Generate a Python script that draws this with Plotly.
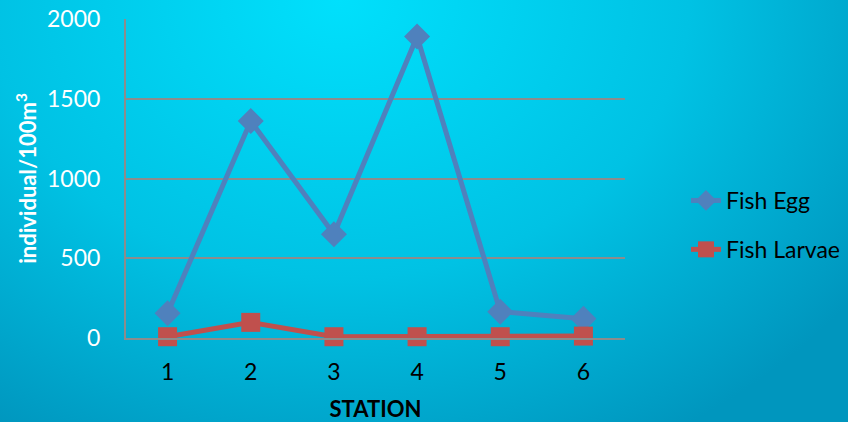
import base64
import plotly.graph_objects as go

stations = ["1", "2", "3", "4", "5", "6"]
fish_egg = [155, 1360, 650, 1890, 165, 120]
fish_larvae = [8, 98, 8, 8, 8, 12]
y_ticks = [0, 500, 1000, 1500, 2000]

W, H = 848, 422
L, R, T, B = 126, 223, 19, 84
pw, ph = W - L - R, H - T - B

svg = f'''<svg xmlns="http://www.w3.org/2000/svg" width="{W}" height="{H}" viewBox="0 0 {W} {H}" preserveAspectRatio="none">
<defs><radialGradient id="g" cx="0.4" cy="0.0" r="0.75" gradientTransform="translate(0.4,0) scale(1,1.6) translate(-0.4,0)">
<stop offset="0" stop-color="#00E0FC"/><stop offset="0.55" stop-color="#00C2E4"/><stop offset="1" stop-color="#0096BE"/>
</radialGradient></defs><rect width="{W}" height="{H}" fill="url(#g)"/></svg>'''
src = "data:image/svg+xml;base64," + base64.b64encode(svg.encode()).decode()

fig = go.Figure()
fig.add_trace(go.Scatter(
    x=stations, y=fish_egg, name="Fish Egg", mode="lines+markers", legendgroup="egg",
    line=dict(color="#4F81BD", width=5), cliponaxis=False,
    marker=dict(symbol="diamond", size=20, color="#4F81BD"),
))
fig.add_trace(go.Scatter(
    x=stations, y=fish_larvae, name="Fish Larvae", mode="lines+markers", legendgroup="larvae",
    line=dict(color="#C0504D", width=5), cliponaxis=False,
    marker=dict(symbol="square", size=19, color="#C0504D"),
))

fig.add_layout_image(dict(
    source=src, xref="paper", yref="paper",
    x=-L / pw, y=1 + T / ph, sizex=W / pw, sizey=H / ph,
    xanchor="left", yanchor="top", sizing="stretch", layer="below",
))

font_family = "Lato, 'Open Sans', sans-serif"
fig.update_layout(
    width=W, height=H,
    margin=dict(l=L, r=R, t=T, b=B, autoexpand=False),
    paper_bgcolor="#00BCDD",
    plot_bgcolor="rgba(0,0,0,0)",
    font=dict(family=font_family),
    showlegend=True,
    legend=dict(
        x=(686 - L) / pw, y=(H - B - 225) / ph, xanchor="left", yanchor="middle",
        bgcolor="rgba(0,0,0,0)", font=dict(size=23, color="black"),
        tracegroupgap=16,
    ),
    xaxis=dict(
        type="category", range=[-0.5, 5.5], automargin=False,
        showgrid=False, showline=True, linecolor="#8C8C8C", linewidth=2,
        tickfont=dict(size=23, color="black"), ticklabelstandoff=12,
        title=dict(text="<b>STATION</b>", font=dict(size=22, color="black"), standoff=23),
        zeroline=False, mirror=False,
    ),
    yaxis=dict(
        range=[0, 2000], tickvals=y_ticks, automargin=False,
        showgrid=True, gridcolor="#8C8C8C", gridwidth=2,
        showline=True, linecolor="#8C8C8C", linewidth=2,
        tickfont=dict(size=23, color="white"), ticklabelstandoff=19,
        title=dict(text="<b>individual/100m<sup>3</sup></b>", font=dict(size=22, color="white"), standoff=4),
        zeroline=False,
    ),
)

fig.write_html(
    "out.html",
    config={"displayModeBar": False},
    post_script="document.body.style.margin='0';document.body.style.overflow='hidden';",
)
